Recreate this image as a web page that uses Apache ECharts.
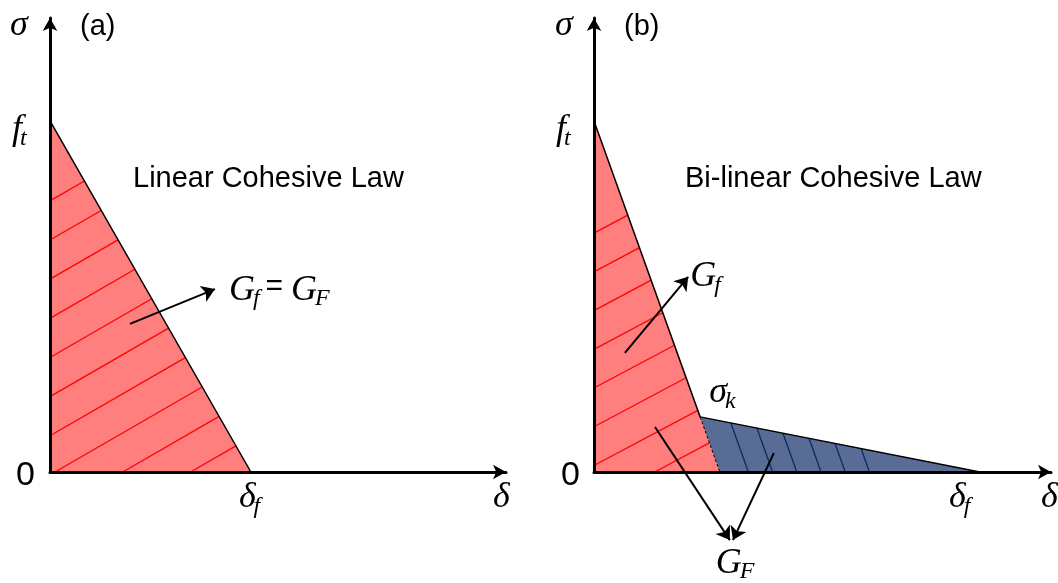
<!DOCTYPE html>
<html>
<head>
<meta charset="utf-8">
<script src="https://cdn.jsdelivr.net/npm/echarts@6/dist/echarts.min.js"></script>
<style>
  html, body { margin: 0; padding: 0; background: #ffffff; }
  #chart { width: 1058px; height: 583px; }
</style>
</head>
<body>
<div id="chart"></div>
<script>
// Normalised units: stress in f_t, opening in delta_f.
const FT = 1;
const DELTA_F = 1;

// (a) linear softening law
const linearLaw = [[0, FT], [DELTA_F, 0]];
const linearArea = [[0, FT], [DELTA_F, 0], [0, 0]];

// (b) bi-linear softening law: knee at (deltaK, sigmaK)
const SIGMA_K = 0.157;
const DELTA_K = 0.275;
const DELTA_0 = 0.326;              // first branch continued down to zero stress
const bilinearLaw = [[0, FT], [DELTA_K, SIGMA_K], [DELTA_F, 0]];
const firstBranchExtension = [[DELTA_K, SIGMA_K], [DELTA_0, 0]];
const initialArea = [[0, FT], [DELTA_K, SIGMA_K], [DELTA_0, 0], [0, 0]];
const tailArea = [[DELTA_K, SIGMA_K], [DELTA_F, 0], [DELTA_0, 0]];

// Pointer arrows: [from, to]
const arrowsA = [[[0.398, 0.422], [0.821, 0.521]]];
const arrowsB = [
  [[0.080, 0.339], [0.244, 0.556]],
  [[0.158, 0.128], [0.352, -0.194]],
  [[0.466, 0.054], [0.360, -0.194]]
];

// Axis extents (arrow ends)
const xMax = [2.27, 1.184];
const yMax = [1.293, 1.293];

const SERIF = '"Liberation Serif", "Times New Roman", serif';
const MATH = 'italic 36px ' + SERIF;
const MATH_SUB = 'italic 24px ' + SERIF;
const SANS = '"Liberation Sans", Arial, sans-serif';

const chart = echarts.init(document.getElementById('chart'), null, { renderer: 'canvas' });

function axisPair(i) {
  const base = {
    type: 'value', min: 0, gridIndex: i, z: 5,
    axisLine: { show: true, onZero: true, symbol: ['none', 'arrow'], symbolSize: [11, 13],
      lineStyle: { color: '#000', width: 3 } },
    axisTick: { show: false }, axisLabel: { show: false }, splitLine: { show: false }
  };
  return [
    Object.assign({}, base, { max: xMax[i] }),
    Object.assign({}, base, { max: yMax[i] })
  ];
}

// Pixel-space hatch segments clipped to a convex polygon
function hatchSegments(pts, dir, anchor, spacing, minLen, margin) {
  const len = Math.hypot(dir[0], dir[1]);
  const d = [dir[0] / len, dir[1] / len];
  const n = [-d[1], d[0]];
  const proj = p => n[0] * (p[0] - anchor[0]) + n[1] * (p[1] - anchor[1]);
  const vals = pts.map(proj);
  const lo = Math.min(...vals) + margin, hi = Math.max(...vals) - margin;
  const kMin = Math.ceil(lo / spacing);
  const kMax = Math.floor(hi / spacing);
  const segs = [];
  for (let k = kMin; k <= kMax; k++) {
    const c = k * spacing;
    const hits = [];
    for (let i = 0; i < pts.length; i++) {
      const a = pts[i], b = pts[(i + 1) % pts.length];
      const fa = vals[i] - c, fb = vals[(i + 1) % pts.length] - c;
      if (fa * fb <= 0 && fa !== fb) {
        const t = fa / (fa - fb);
        hits.push([a[0] + t * (b[0] - a[0]), a[1] + t * (b[1] - a[1])]);
      }
    }
    if (hits.length < 2) continue;
    hits.sort((p, q) => (p[0] * d[0] + p[1] * d[1]) - (q[0] * d[0] + q[1] * d[1]));
    const p1 = hits[0], p2 = hits[hits.length - 1];
    if (Math.hypot(p2[0] - p1[0], p2[1] - p1[1]) < minLen) continue;
    segs.push([p1, p2]);
  }
  return segs;
}

function hatchedArea(gi, poly, fill, hatch) {
  return {
    type: 'custom', coordinateSystem: 'cartesian2d', xAxisIndex: gi, yAxisIndex: gi,
    data: [[0, 0]], silent: true, z: 1, clip: false,
    renderItem: (params, api) => {
      const pts = poly.map(p => api.coord(p));
      let dir;
      if (hatch.along) {
        const a = api.coord(hatch.along[0]), b = api.coord(hatch.along[1]);
        dir = [b[0] - a[0], b[1] - a[1]];
      } else {
        const r = hatch.angle * Math.PI / 180;
        dir = [Math.cos(r), -Math.sin(r)];
      }
      const anchor = api.coord(hatch.anchor);
      const children = [{ type: 'polygon', shape: { points: pts }, style: { fill: fill, stroke: null } }];
      hatchSegments(pts, dir, anchor, hatch.spacing, hatch.minLen, hatch.margin || 0).forEach(s => {
        children.push({ type: 'line', shape: { x1: s[0][0], y1: s[0][1], x2: s[1][0], y2: s[1][1] },
          style: { stroke: hatch.color, lineWidth: hatch.width } });
      });
      return { type: 'group', children: children };
    }
  };
}

function curve(gi, data, style) {
  return {
    type: 'line', xAxisIndex: gi, yAxisIndex: gi, data: data, showSymbol: false, silent: true,
    z: 3, lineStyle: style
  };
}

function arrows(gi, list) {
  return {
    type: 'lines', coordinateSystem: 'cartesian2d', xAxisIndex: gi, yAxisIndex: gi,
    clip: false, silent: true, z: 4,
    symbol: ['none', 'arrow'], symbolSize: 13,
    lineStyle: { color: '#000', width: 2, opacity: 1 },
    data: list.map(c => ({ coords: c }))
  };
}

const ax0 = axisPair(0), ax1 = axisPair(1);

chart.setOption({
  animation: false,
  backgroundColor: '#ffffff',
  grid: [
    { left: 50, top: 18, width: 456, height: 454 },
    { left: 594, top: 18, width: 457, height: 454 }
  ],
  xAxis: [ax0[0], ax1[0]],
  yAxis: [ax0[1], ax1[1]],
  series: [
    hatchedArea(0, linearArea, '#ff7f7f',
      { angle: 30, anchor: [0.025, 0], spacing: 33.9, color: '#ff0000', width: 1.3, minLen: 30 }),
    curve(0, linearLaw, { color: '#000', width: 1.5 }),
    arrows(0, arrowsA),

    hatchedArea(1, initialArea, '#ff7f7f',
      { angle: 28, anchor: [0, 0.0185], spacing: 34.2, color: '#ff0000', width: 1.3, minLen: 30 }),
    hatchedArea(1, tailArea, '#586c96',
      { along: firstBranchExtension, anchor: [0.400, 0], spacing: 22.8, color: '#0c2a63', width: 1.3,
        minLen: 20, margin: 8 }),
    curve(1, bilinearLaw, { color: '#000', width: 1.5 }),
    curve(1, firstBranchExtension, { color: '#000', width: 1, type: [3, 2] }),
    arrows(1, arrowsB)
  ]
});

// ---- text: pieces laid out left to right from an anchor point ----
const measureCtx = document.createElement('canvas').getContext('2d');
function textWidth(str, font) { measureCtx.font = font; return measureCtx.measureText(str).width; }

function run(gi, anchor, dx, dy, pieces) {
  const p = chart.convertToPixel({ xAxisIndex: gi, yAxisIndex: gi }, anchor);
  let x = p[0] + dx;
  const y = p[1] + dy;
  const out = [];
  pieces.forEach(pc => {
    x += pc.gap || 0;
    out.push({ type: 'text', x: x, y: y + (pc.dy || 0), silent: true, z: 10,
      style: { text: pc.t, font: pc.font, fill: '#000', align: 'left', verticalAlign: 'middle' } });
    x += textWidth(pc.t, pc.font);
  });
  return out;
}
const M = (t, o) => Object.assign({ t: t, font: MATH }, o || {});
const S = (t, o) => Object.assign({ t: t, font: MATH_SUB, dy: 9, gap: -2 }, o || {});
const TXT = (t, size, o) => Object.assign({ t: t, font: size + 'px ' + SANS }, o || {});

const graphics = [].concat(
  // panel (a)
  run(0, [0, yMax[0]], -40, 8, [M('σ')]),
  run(0, [0, yMax[0]], 30, 9, [TXT('(a)', 29)]),
  run(0, [0, FT], -38, 9, [M('f'), S('t')]),
  run(0, [0, 0], 83, -293, [TXT('Linear Cohesive Law', 29)]),
  run(0, arrowsA[0][1], 14, 1, [M('G'), S('f'), TXT('=', 30, { gap: 6, dy: -3 }), M('G', { gap: 8 }), S('F')]),
  run(0, [0, 0], -34, 4, [TXT('0', 34)]),
  run(0, [DELTA_F, 0], -12, 26, [M('δ'), S('f')]),
  run(0, [xMax[0], 0], -13, 26, [M('δ')]),
  // panel (b)
  run(1, [0, yMax[1]], -39, 8, [M('σ')]),
  run(1, [0, yMax[1]], 30, 9, [TXT('(b)', 29)]),
  run(1, [0, FT], -38, 9, [M('f'), S('t')]),
  run(1, [0, 0], 91, -293, [TXT('Bi-linear Cohesive Law', 29)]),
  run(1, arrowsB[0][1], 2, 0, [M('G'), S('f')]),
  run(1, [DELTA_K, SIGMA_K], 9, -24, [M('σ'), S('k')]),
  run(1, [0, 0], -33, 4, [TXT('0', 34)]),
  run(1, [DELTA_F, 0], -31, 26, [M('δ'), S('f')]),
  run(1, [xMax[1], 0], -10, 26, [M('δ')]),
  run(1, arrowsB[1][1], -14, 23, [M('G'), S('F')])
);
chart.setOption({ graphic: graphics });
</script>
</body>
</html>
